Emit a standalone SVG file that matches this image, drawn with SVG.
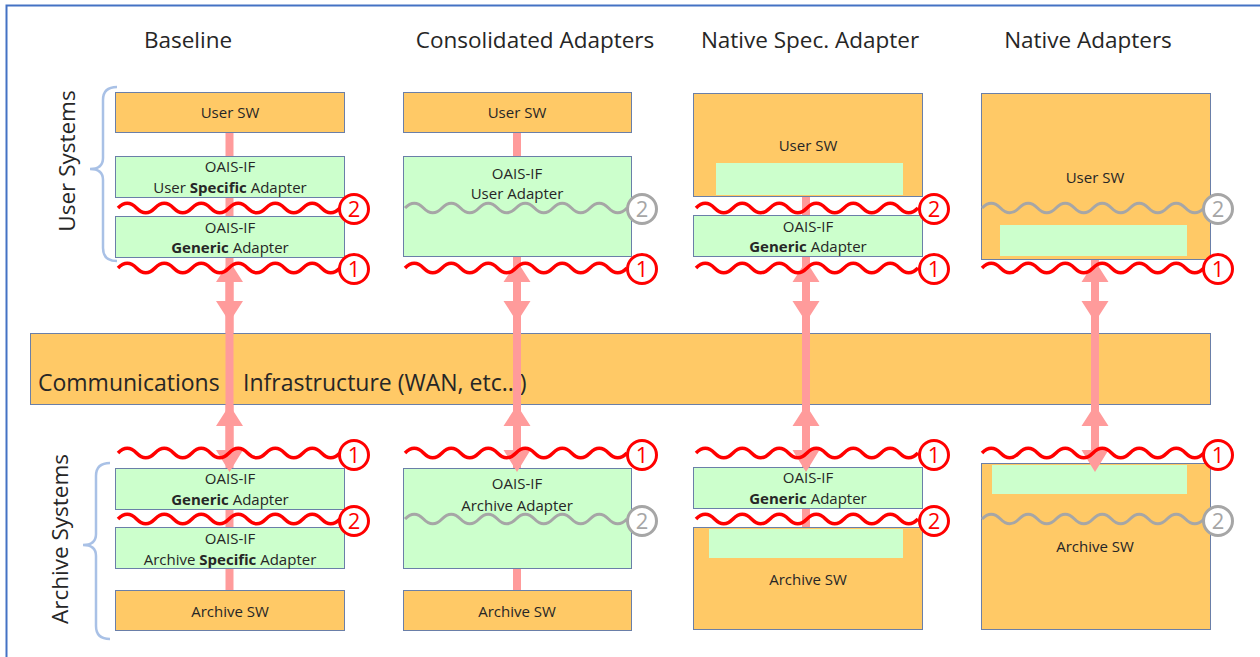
<svg xmlns="http://www.w3.org/2000/svg" width="1260" height="657" viewBox="0 0 1260 657">
<defs>
<style>
text{font-family:"Open Sans","Noto Sans","DejaVu Sans",sans-serif;fill:#262626}
.title{font-size:22.5px;text-anchor:middle}
.lbl{font-size:15px;text-anchor:middle}
.side{font-size:22.5px;text-anchor:middle}
.comm{font-size:23px}
.b{font-weight:bold}
.sw{fill:#FFC966;stroke:#6A7FA8;stroke-width:1}
.ad{fill:#CCFFCC;stroke:#6A7FA8;stroke-width:1}
.in{fill:#CCFFCC}
.wr{fill:none;stroke:#FF0000;stroke-width:3.5}
.wg{fill:none;stroke:#A6A6A6;stroke-width:3}
.cr{fill:#fff;stroke:#FF0000;stroke-width:3}
.cg{fill:#fff;stroke:#A6A6A6;stroke-width:3}
.nr{font-size:22px;fill:#FF0000;text-anchor:middle}
.ng{font-size:22px;fill:#A6A6A6;text-anchor:middle}
.pk{stroke:#FF9B9B;stroke-width:8}
.ah{fill:#FF9B9B}
.brace{fill:none;stroke:#A9C1E6;stroke-width:2.5}
.frame{fill:none;stroke:#4472C4;stroke-width:2}
</style>
<path id="wave" d="M0,0 q9.25,-9.5 18.5,0 t18.5,0 t18.5,0 t18.5,0 t18.5,0 t18.5,0 t18.5,0 t18.5,0 t18.5,0 t18.5,0 t18.5,0 t18.5,0"/>
<g id="arrow">
<line class="pk" x1="0" y1="275" x2="0" y2="460"/>
<path class="ah" d="M0,261 L13.5,282 L-13.5,282 Z M-13.5,301 L13.5,301 L0,322 Z M0,405 L13.5,426 L-13.5,426 Z M-13.5,450 L13.5,450 L0,472 Z"/>
</g>
</defs>

<path class="frame" d="M6.5,662 V5.5 H1262"/>

<g id="titles">
<text class="title" x="188" y="48">Baseline</text>
<text class="title" x="535" y="48">Consolidated Adapters</text>
<text class="title" x="810" y="48">Native Spec. Adapter</text>
<text class="title" x="1088" y="48">Native Adapters</text>
</g>

<g id="side-labels">
<path class="brace" d="M117,87 Q103,87 103,100 V158 Q103,169 90,169 Q103,169 103,180 V248 Q103,261 117,261"/>
<text class="side" transform="translate(75,161) rotate(-90)">User Systems</text>
<path class="brace" d="M110,463 Q96,463 96,476 V534 Q96,545 83,545 Q96,545 96,556 V626 Q96,639 110,639"/>
<text class="side" transform="translate(68,539) rotate(-90)">Archive Systems</text>
</g>

<g id="connectors-back">
<line class="pk" x1="229.5" y1="132" x2="229.5" y2="591"/>
<line class="pk" x1="517" y1="132" x2="517" y2="591"/>
<line class="pk" x1="806" y1="196" x2="806" y2="528"/>
<line class="pk" x1="1095" y1="259" x2="1095" y2="463"/>
</g>

<!-- Column 1: Baseline -->
<g id="c1-user-sw"><rect class="sw" x="115.5" y="92.5" width="229" height="40"/><text class="lbl" x="230" y="117.5">User SW</text></g>
<g id="c1-user-specific"><rect class="ad" x="115.5" y="156.5" width="229" height="41"/><text class="lbl" x="230" y="171.5">OAIS-IF</text><text class="lbl" x="230" y="192.5">User <tspan class="b">Specific</tspan> Adapter</text></g>
<g id="c1-user-generic"><rect class="ad" x="115.5" y="216.5" width="229" height="41"/><text class="lbl" x="230" y="232.5">OAIS-IF</text><text class="lbl" x="230" y="252.5"><tspan class="b">Generic</tspan> Adapter</text></g>
<g id="c1-arch-generic"><rect class="ad" x="115.5" y="468.5" width="229" height="41"/><text class="lbl" x="230" y="483.5">OAIS-IF</text><text class="lbl" x="230" y="504.5"><tspan class="b">Generic</tspan> Adapter</text></g>
<g id="c1-arch-specific"><rect class="ad" x="115.5" y="527.5" width="229" height="41"/><text class="lbl" x="230" y="543.5">OAIS-IF</text><text class="lbl" x="230" y="564.5">Archive <tspan class="b">Specific</tspan> Adapter</text></g>
<g id="c1-arch-sw"><rect class="sw" x="115.5" y="590.5" width="229" height="40"/><text class="lbl" x="230" y="616.5">Archive SW</text></g>

<!-- Column 2: Consolidated -->
<g id="c2-user-sw"><rect class="sw" x="403.5" y="92.5" width="228" height="40"/><text class="lbl" x="517" y="117.5">User SW</text></g>
<g id="c2-user-adapter"><rect class="ad" x="403.5" y="156.5" width="228" height="100"/><text class="lbl" x="517" y="178.5">OAIS-IF</text><text class="lbl" x="517" y="198.5">User Adapter</text></g>
<g id="c2-arch-adapter"><rect class="ad" x="403.5" y="468.5" width="228" height="100"/><text class="lbl" x="517" y="488.5">OAIS-IF</text><text class="lbl" x="517" y="510.5">Archive Adapter</text></g>
<g id="c2-arch-sw"><rect class="sw" x="403.5" y="590.5" width="228" height="40"/><text class="lbl" x="517" y="616.5">Archive SW</text></g>

<!-- Column 3: Native Spec. Adapter -->
<g id="c3-user-sw"><rect class="sw" x="693.5" y="93.5" width="229" height="103"/><rect class="in" x="716" y="163" width="187" height="32"/><text class="lbl" x="808" y="150.5">User SW</text></g>
<g id="c3-user-generic"><rect class="ad" x="693.5" y="215.5" width="229" height="41"/><text class="lbl" x="808" y="231.5">OAIS-IF</text><text class="lbl" x="808" y="251.5"><tspan class="b">Generic</tspan> Adapter</text></g>
<g id="c3-arch-generic"><rect class="ad" x="693.5" y="467.5" width="229" height="41"/><text class="lbl" x="808" y="482.5">OAIS-IF</text><text class="lbl" x="808" y="503.5"><tspan class="b">Generic</tspan> Adapter</text></g>
<g id="c3-arch-sw"><rect class="sw" x="693.5" y="527.5" width="229" height="102"/><rect class="in" x="709" y="529" width="194" height="29"/><text class="lbl" x="808" y="584.5">Archive SW</text></g>

<!-- Column 4: Native Adapters -->
<g id="c4-user-sw"><rect class="sw" x="981.5" y="93.5" width="229" height="166"/><rect class="in" x="1000" y="225" width="187" height="31"/><text class="lbl" x="1095" y="182.5">User SW</text></g>
<g id="c4-arch-sw"><rect class="sw" x="981.5" y="463.5" width="229" height="166"/><rect class="in" x="992" y="465" width="195" height="29"/><text class="lbl" x="1095" y="551.5">Archive SW</text></g>

<g id="comm-infra">
<rect class="sw" x="30.5" y="333.5" width="1180" height="71"/>
<text class="comm" x="38" y="391">Communications</text>
<text class="comm" x="243" y="391">Infrastructure (WAN, etc...)</text>
</g>

<g id="connectors">
<use href="#arrow" x="229.5"/>
<use href="#arrow" x="517"/>
<use href="#arrow" x="806"/>
<use href="#arrow" x="1095"/>
</g>

<g id="interfaces">
<use href="#wave" class="wr" x="118" y="208"/>
<use href="#wave" class="wg" x="405" y="208"/>
<use href="#wave" class="wr" x="696" y="208"/>
<use href="#wave" class="wg" x="982" y="208"/>
<use href="#wave" class="wr" x="118" y="268"/>
<use href="#wave" class="wr" x="405" y="268"/>
<use href="#wave" class="wr" x="696" y="268"/>
<use href="#wave" class="wr" x="982" y="268"/>
<use href="#wave" class="wr" x="118" y="453"/>
<use href="#wave" class="wr" x="405" y="453"/>
<use href="#wave" class="wr" x="696" y="453"/>
<use href="#wave" class="wr" x="982" y="453"/>
<use href="#wave" class="wr" x="118" y="519"/>
<use href="#wave" class="wg" x="405" y="519"/>
<use href="#wave" class="wr" x="696" y="519"/>
<use href="#wave" class="wg" x="982" y="519"/>
</g>

<g id="markers">
<circle class="cr" cx="354" cy="209" r="14.5"/><text class="nr" x="354" y="217">2</text>
<circle class="cg" cx="642" cy="209" r="14.5"/><text class="ng" x="642" y="217">2</text>
<circle class="cr" cx="934" cy="209" r="14.5"/><text class="nr" x="934" y="217">2</text>
<circle class="cg" cx="1218" cy="209" r="14.5"/><text class="ng" x="1218" y="217">2</text>
<circle class="cr" cx="354" cy="269" r="14.5"/><text class="nr" x="354" y="277">1</text>
<circle class="cr" cx="642" cy="269" r="14.5"/><text class="nr" x="642" y="277">1</text>
<circle class="cr" cx="934" cy="269" r="14.5"/><text class="nr" x="934" y="277">1</text>
<circle class="cr" cx="1218" cy="269" r="14.5"/><text class="nr" x="1218" y="277">1</text>
<circle class="cr" cx="354" cy="455" r="14.5"/><text class="nr" x="354" y="463">1</text>
<circle class="cr" cx="642" cy="455" r="14.5"/><text class="nr" x="642" y="463">1</text>
<circle class="cr" cx="934" cy="455" r="14.5"/><text class="nr" x="934" y="463">1</text>
<circle class="cr" cx="1218" cy="455" r="14.5"/><text class="nr" x="1218" y="463">1</text>
<circle class="cr" cx="354" cy="521" r="14.5"/><text class="nr" x="354" y="529">2</text>
<circle class="cg" cx="642" cy="521" r="14.5"/><text class="ng" x="642" y="529">2</text>
<circle class="cr" cx="934" cy="521" r="14.5"/><text class="nr" x="934" y="529">2</text>
<circle class="cg" cx="1218" cy="521" r="14.5"/><text class="ng" x="1218" y="529">2</text>
</g>
</svg>
